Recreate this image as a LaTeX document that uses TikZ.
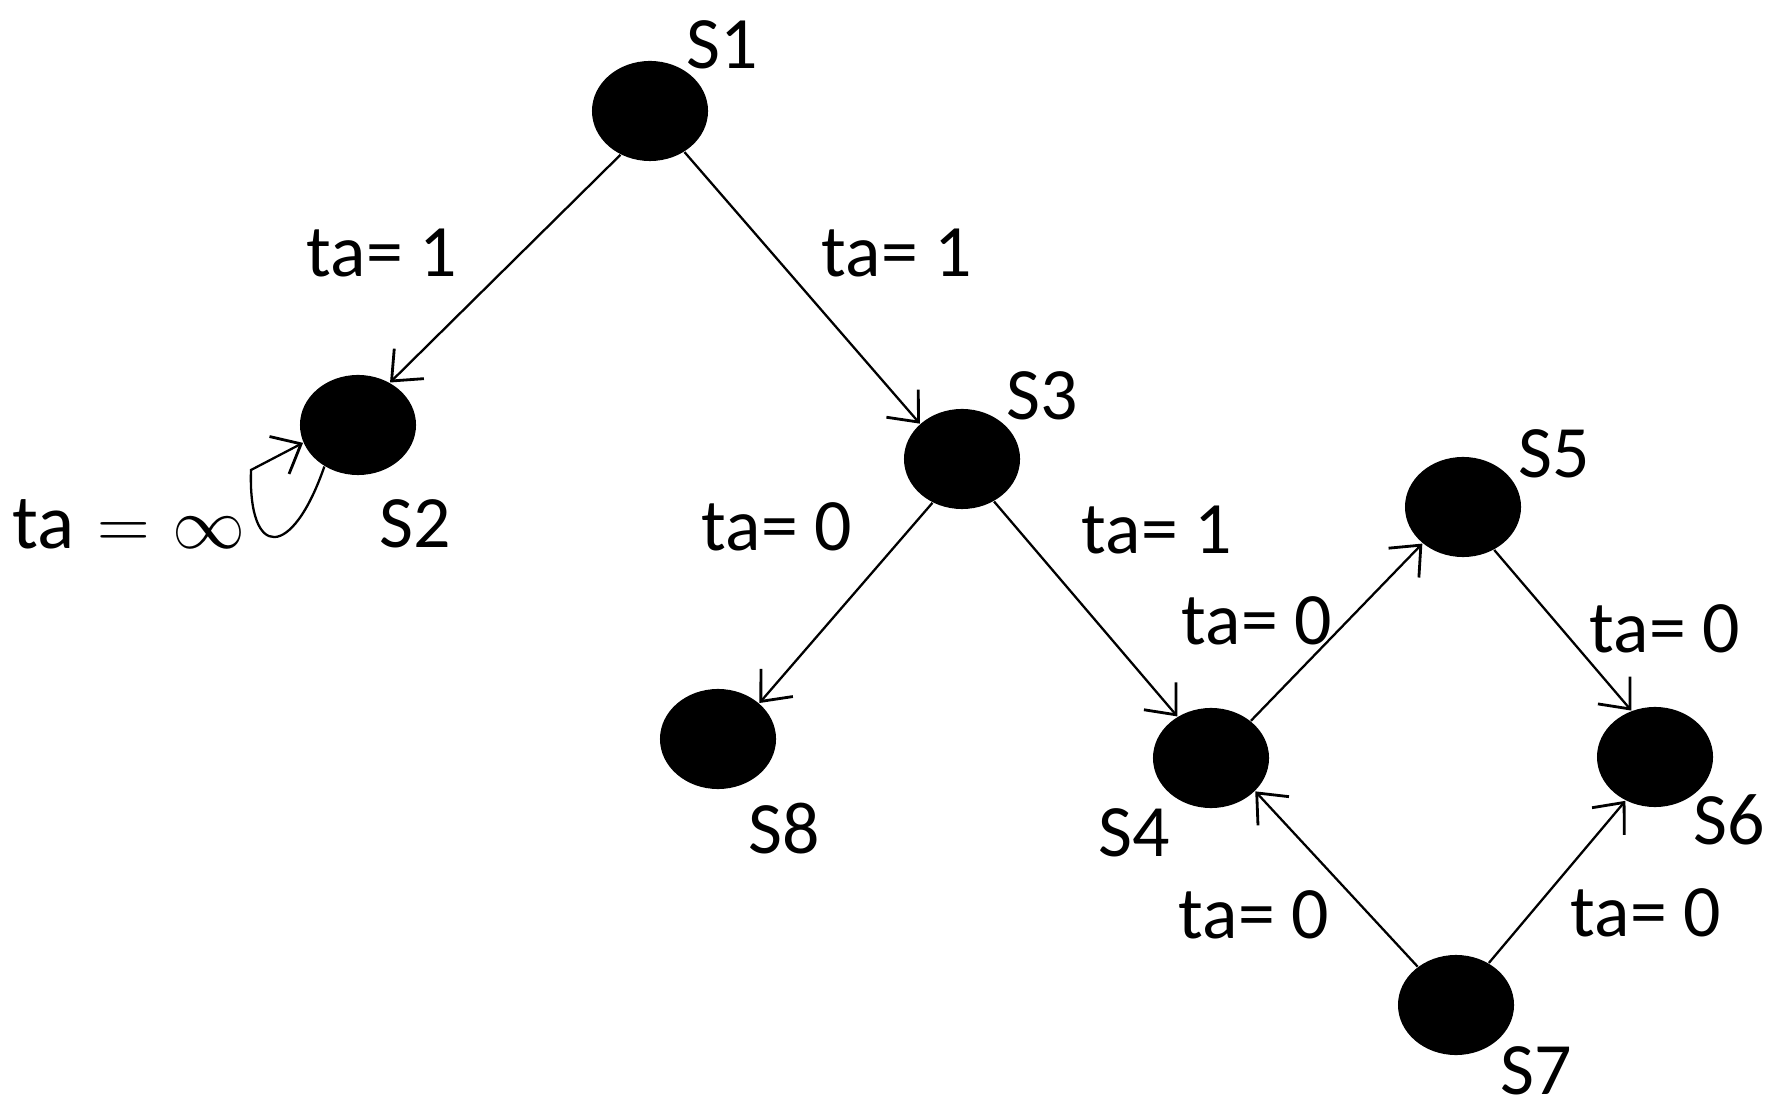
\documentclass[tikz,border=0pt]{standalone}
\usepackage{fontspec}
\setmainfont{Carlito}
\usetikzlibrary{shapes.geometric,arrows.meta}
\begin{document}
\begin{tikzpicture}[x=0.01cm,y=-0.01cm,
  state/.style={ellipse,fill=black,minimum width=1.16cm,minimum height=1.0cm,inner sep=0pt},
  lab/.style={font=\fontsize{21}{25}\selectfont,inner sep=0pt},
  edge/.style={line width=0.65pt,-{Straight Barb[length=7pt,width=12pt,line width=0.8pt]}}]
\useasboundingbox (0,0) rectangle (1770,1113);
\node[state] (S1) at (650,111) {};
\node[state] (S2) at (358,425) {};
\node[state] (S3) at (962,459) {};
\node[state] (S8) at (718,739) {};
\node[state] (S4) at (1211,758) {};
\node[state] (S5) at (1463,507) {};
\node[state] (S6) at (1655,757) {};
\node[state] (S7) at (1456,1005) {};
\node[lab] (l1) at (722,45) {S1};
\node[lab] (l2) at (415,524) {S2};
\node[lab] (l3) at (1042,396) {S3};
\node[lab] (l8) at (784,829) {S8};
\node[lab] (l4) at (1134,833) {S4};
\node[lab] (l5) at (1554,454) {S5};
\node[lab] (l6) at (1729,820) {S6};
\node[lab] (l7) at (1536,1071) {S7};
\node[lab] (t12) at (382,253) {ta= 1};
\node[lab] (t13) at (897,253) {ta= 1};
\node[lab,font=\fontsize{22}{26}\selectfont,anchor=west] (t22) at (12,524) {ta\hspace{0.3em}$=$\hspace{0.28em}$\infty$};
\node[lab] (t38) at (777,527) {ta= 0};
\node[lab] (t34) at (1157,530) {ta= 1};
\node[lab] (t45) at (1257,621) {ta= 0};
\node[lab] (t56) at (1665,629) {ta= 0};
\node[lab] (t74) at (1254,915) {ta= 0};
\node[lab] (t76) at (1646,913) {ta= 0};
\draw[edge] (S1.236) -- (S2.53);
\draw[edge] (S1.310) -- (S3.140);
\draw[edge] (S3.236) -- (S8.41);
\draw[edge] (S3.307) -- (S4.129);
\draw[edge] (S4.43) -- (S5.222);
\draw[edge] (S5.306) -- (S6.117);
\draw[edge] (S7.135) -- (S4.323);
\draw[edge] (S7.52) -- (S6.236);
\draw[edge] (S2.231) .. controls (292,560) and (248,560) .. (251,470) -- (S2.198);
\end{tikzpicture}
\end{document}
